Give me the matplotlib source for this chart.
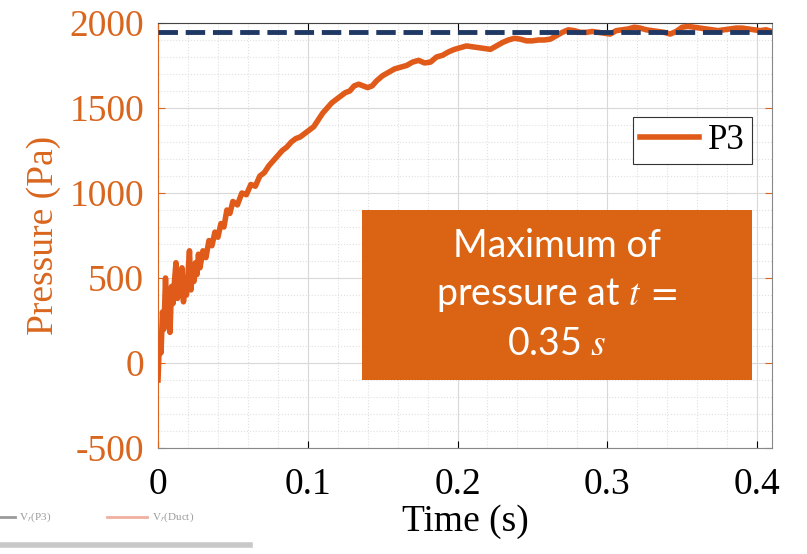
import numpy as np
import matplotlib.pyplot as plt
from matplotlib.patches import Rectangle
from matplotlib.ticker import MultipleLocator

# P3 pressure trace
time_s = [0.000, 0.001, 0.002, 0.003, 0.004, 0.005, 0.006, 0.007, 0.008, 0.009,
          0.010, 0.011, 0.012, 0.013, 0.014, 0.015, 0.016, 0.017, 0.018, 0.019,
          0.020, 0.021, 0.022, 0.023, 0.024, 0.025, 0.026, 0.027, 0.028, 0.030,
          0.032, 0.034, 0.036, 0.038, 0.040, 0.042, 0.044, 0.046, 0.048, 0.050,
          0.053, 0.056, 0.059, 0.062, 0.065, 0.068, 0.071, 0.074, 0.077, 0.080,
          0.083, 0.086, 0.089, 0.092, 0.095, 0.098, 0.101, 0.104, 0.107, 0.110,
          0.113, 0.116, 0.119, 0.122, 0.125, 0.128, 0.131, 0.134, 0.137, 0.140,
          0.143, 0.146, 0.150, 0.154, 0.158, 0.162, 0.166, 0.170, 0.174, 0.178,
          0.182, 0.186, 0.190, 0.194, 0.198, 0.202, 0.206, 0.210, 0.214, 0.218,
          0.222, 0.226, 0.230, 0.234, 0.238, 0.242, 0.246, 0.250, 0.254, 0.258,
          0.262, 0.266, 0.270, 0.274, 0.278, 0.282, 0.286, 0.290, 0.294, 0.298,
          0.302, 0.306, 0.310, 0.314, 0.318, 0.322, 0.326, 0.330, 0.334, 0.338,
          0.342, 0.346, 0.350, 0.354, 0.358, 0.362, 0.366, 0.370, 0.374, 0.378,
          0.382, 0.386, 0.390, 0.394, 0.398, 0.402, 0.406, 0.410]
pressure_pa = [-100, 150, 60, 300, 200, 500, 250, 400, 180, 450,
               350, 480, 590, 380, 520, 420, 560, 360, 480, 400,
               520, 660, 430, 560, 480, 590, 520, 640, 560, 660,
               620, 720, 690, 770, 740, 820, 800, 900, 880, 950,
               930, 1000, 990, 1050, 1040, 1100, 1120, 1160, 1190, 1220,
               1250, 1270, 1300, 1320, 1330, 1350, 1370, 1390, 1430, 1470,
               1500, 1530, 1550, 1570, 1590, 1600, 1630, 1640, 1630, 1620,
               1630, 1660, 1690, 1710, 1730, 1740, 1750, 1770, 1780, 1765,
               1770, 1800, 1810, 1830, 1845, 1855, 1865, 1860, 1855, 1850,
               1845, 1865, 1885, 1900, 1910, 1905, 1895, 1895, 1900, 1900,
               1905, 1925, 1945, 1960, 1955, 1945, 1945, 1950, 1945, 1940,
               1935, 1955, 1960, 1965, 1975, 1970, 1960, 1955, 1950, 1945,
               1935, 1950, 1975, 1980, 1975, 1970, 1965, 1960, 1955, 1960,
               1965, 1970, 1970, 1965, 1960, 1955, 1960, 1950]
ref_level = 1945

orange = '#E05A1A'
axis_orange = '#D9661E'
navy = '#1F3864'

plt.rcParams['font.family'] = ['Liberation Serif', 'DejaVu Serif']
plt.rcParams['axes.unicode_minus'] = False
plt.rcParams['mathtext.fontset'] = 'stix'

fig = plt.figure(figsize=(8.07, 5.54), dpi=100)
ax = fig.add_axes([0.1958, 0.1913, 0.7608, 0.7672])

ax.plot(time_s, pressure_pa, color=orange, linewidth=4, label='P3', zorder=3)
ax.axhline(ref_level, color=navy, linestyle=(0, (4.0, 1.6)), linewidth=3.5, zorder=4)

ax.set_xlim(0, 0.41)
ax.set_ylim(-500, 2000)
ax.set_xticks([0, 0.1, 0.2, 0.3, 0.4])
ax.set_xticklabels(['0', '0.1', '0.2', '0.3', '0.4'])
ax.xaxis.set_minor_locator(MultipleLocator(0.02))
ax.yaxis.set_major_locator(MultipleLocator(500))
ax.yaxis.set_minor_locator(MultipleLocator(100))

ax.grid(which='major', color='#d8d8d8', linewidth=0.8)
ax.grid(which='minor', color='#e0e0e0', linestyle=':', linewidth=0.8)
ax.set_axisbelow(True)

ax.tick_params(axis='both', which='major', direction='in', length=5, labelsize=27,
               right=True, top=True)
ax.tick_params(axis='both', which='minor', length=0)
ax.tick_params(axis='y', colors=axis_orange, labelcolor=axis_orange, pad=10)
ax.tick_params(axis='x', pad=14)

ax.spines['left'].set_color(axis_orange)
ax.spines['bottom'].set_color('#888888')
ax.spines['right'].set_color('#888888')
ax.spines['top'].set_color('#444444')

ax.set_xlabel('Time (s)', fontsize=27, labelpad=2)
ax.set_ylabel('Pressure (Pa)', fontsize=27, color=axis_orange, labelpad=6)

leg = ax.legend(loc='upper right', bbox_to_anchor=(0.967, 0.779), fontsize=25,
                handlelength=1.7, handletextpad=0.25, borderpad=0.2,
                borderaxespad=0, fancybox=False, framealpha=1, edgecolor='#333333')
leg.get_frame().set_linewidth(0.8)

ax.add_patch(Rectangle((0.332, 0.16), 0.635, 0.40, transform=ax.transAxes,
                       facecolor='#DA6314', edgecolor='none', zorder=5))
ax.text(0.65, 0.36, 'Maximum of\npressure at $t\\;=$\n0.35 $s$',
        transform=ax.transAxes, ha='center', va='center', fontsize=27,
        family=['Lato', 'DejaVu Sans'], color='white', linespacing=1.4, zorder=6)

# cropped fragment of a neighbouring legend, bottom-left
fig.add_artist(plt.Line2D([0.0, 0.018], [0.066, 0.066], color='#9a9a9a', lw=2))
fig.text(0.024, 0.066, 'V$_r$(P3)', fontsize=8, color='#9a9a9a', va='center')
fig.add_artist(plt.Line2D([0.133, 0.182], [0.066, 0.066], color='#f0b0a0', lw=2))
fig.text(0.188, 0.066, 'V$_r$(Duct)', fontsize=8, color='#9a9a9a', va='center')
fig.add_artist(plt.Line2D([0.0, 0.31], [0.016, 0.016], color='#c8c8c8', lw=4))

fig.savefig('out.png', dpi=100)
